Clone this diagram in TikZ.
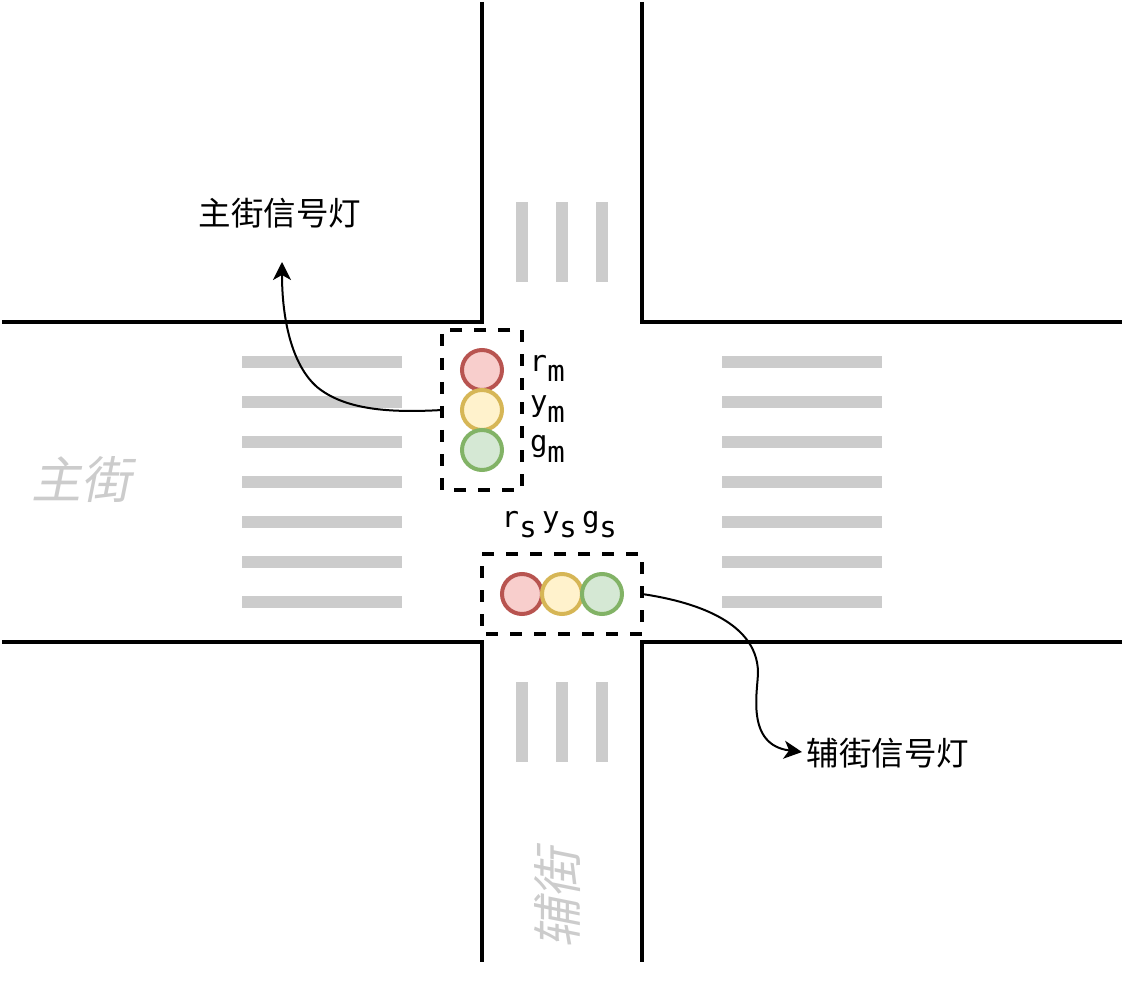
\documentclass[tikz,border=0pt]{standalone}
\usepackage{fontspec}
\usetikzlibrary{arrows.meta}
\newfontfamily\cjk{Noto Sans CJK SC}
\newfontfamily\cjkslant[FakeSlant=0.2]{Noto Sans CJK SC}
\newfontfamily\labelmono{DejaVu Sans Mono}
\newcommand{\lbl}[2]{#1\raisebox{-10pt}{#2}}
\tikzset{
  road/.style={line width=4pt,line cap=butt},
  stripe/.style={fill=stripegray,draw=none,inner sep=0pt,outer sep=0pt},
  hstripe/.style={stripe,minimum width=160pt,minimum height=12pt},
  vstripe/.style={stripe,minimum width=12pt,minimum height=80pt},
  lamp/.style={circle,draw,line width=4pt,minimum size=40pt,inner sep=0pt,outer sep=0pt},
  redlamp/.style={lamp,fill=redfill,draw=redline},
  yellowlamp/.style={lamp,fill=yellowfill,draw=yellowline},
  greenlamp/.style={lamp,fill=greenfill,draw=greenline},
  lampbox/.style={draw,line width=4pt,inner sep=0pt,outer sep=0pt,dash pattern=on 12pt off 12pt},
  signal/.style={anchor=base west,inner sep=0pt,outer sep=0pt,font=\labelmono\fontsize{29}{32}\selectfont},
  caption/.style={inner sep=0pt,font=\cjk\fontsize{32.5}{38}\selectfont},
  street/.style={inner sep=0pt,text=stripegray,font=\cjkslant\fontsize{50}{56}\selectfont},
  callout/.style={line width=2pt,-{Stealth[length=18pt,width=18pt,inset=5pt]}},
}
\definecolor{stripegray}{HTML}{CCCCCC}
\definecolor{redfill}{HTML}{F8CECC}
\definecolor{redline}{HTML}{B85450}
\definecolor{yellowfill}{HTML}{FFF2CC}
\definecolor{yellowline}{HTML}{D6B656}
\definecolor{greenfill}{HTML}{D5E8D4}
\definecolor{greenline}{HTML}{82B366}
\begin{document}
\begin{tikzpicture}[x=1pt,y=-1pt]
\useasboundingbox (0,0) rectangle (1128,984);
% crossing stripes
\foreach \yy [count=\i] in {362,402,442,482,522,562,602}{
  \node[hstripe] (stripeL\i) at (322,\yy) {};
  \node[hstripe] (stripeR\i) at (802,\yy) {};
}
\foreach \xx [count=\i] in {522,562,602}{
  \node[vstripe] (stripeT\i) at (\xx,242) {};
  \node[vstripe] (stripeB\i) at (\xx,722) {};
}
% roads
\draw[road] (482,2) -- (482,322) -- (2,322);
\draw[road] (642,2) -- (642,322) -- (1122,322);
\draw[road] (2,642) -- (482,642) -- (482,962);
\draw[road] (1122,642) -- (642,642) -- (642,962);
% lamp boxes
\node[lampbox,dash phase=12pt,minimum width=80pt,minimum height=160pt] (boxm) at (482,410) {};
\node[lampbox,dash phase=20pt,minimum width=160pt,minimum height=80pt] (boxs) at (562,594) {};
% lamps
\node[redlamp] (rm) at (482,370) {};
\node[yellowlamp] (ym) at (482,410) {};
\node[greenlamp] (gm) at (482,450) {};
\node[redlamp] (rs) at (522,594) {};
\node[yellowlamp] (ys) at (562,594) {};
\node[greenlamp] (gs) at (602,594) {};
% signal labels
\node[signal] (lrm) at (530,372) {\lbl{\kern-0.5pt r\kern0.5pt}{m}};
\node[signal] (lym) at (530,412) {\lbl{y}{m}};
\node[signal] (lgm) at (530,452) {\lbl{g}{m}};
\node[signal] (lrs) at (502,527) {\lbl{\kern-0.5pt r\kern0.5pt}{s}};
\node[signal] (lys) at (542,527) {\lbl{y}{s}};
\node[signal] (lgs) at (582,527) {\lbl{g}{s}};
% captions
\node[caption] (capm) at (280,213) {主街信号灯};
\node[caption] (caps) at (888,753) {辅街信号灯};
\node[street] (mainst) at (81,480) {主街};
\node[street,rotate=90] (sidest) at (558,898) {辅街};
% callouts
\coordinate (tipm) at (282,262);
\coordinate (tips) at (802,752);
\draw[callout] (boxm.west) .. controls (390,413) and (345,410) .. (317,387) .. controls (292,365) and (282,320) .. (tipm);
\draw[callout] (boxs.east) .. controls (690,601) and (757,620) .. (758,672) .. controls (758,690) and (745,745) .. (tips);
\end{tikzpicture}
\end{document}
